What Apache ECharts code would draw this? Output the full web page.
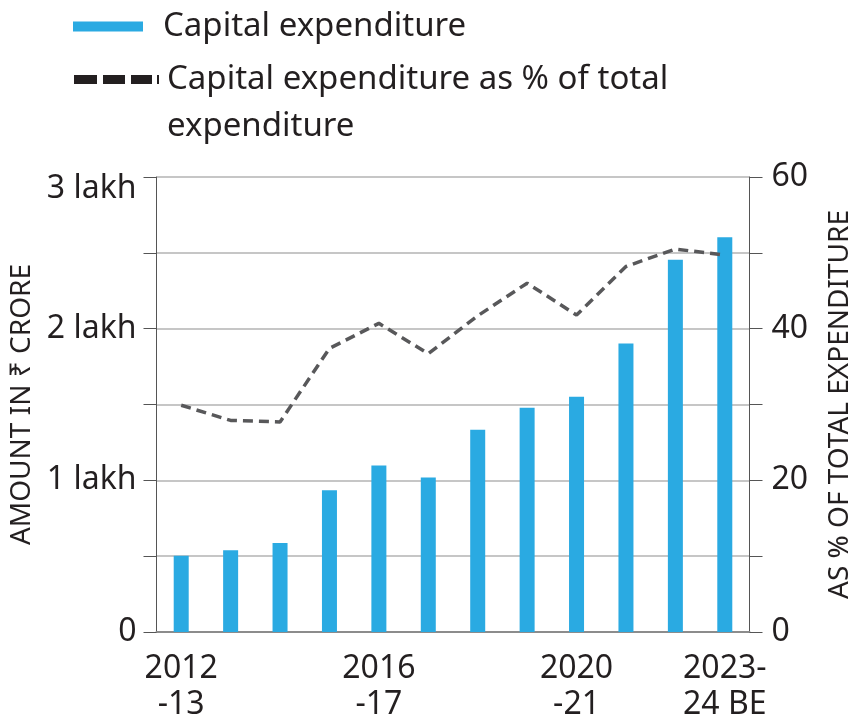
<!DOCTYPE html>
<html>
<head>
<meta charset="utf-8">
<script src="https://cdn.jsdelivr.net/npm/echarts@6/dist/echarts.min.js"></script>
<style>
  html, body { margin: 0; padding: 0; background: #fff; }
  #chart { width: 866px; height: 715px; }
</style>
</head>
<body>
<div id="chart"></div>
<script>
// railway capital expenditure, Rs crore, and its share of total expenditure
const years = ['2012-13', '2013-14', '2014-15', '2015-16', '2016-17', '2017-18',
  '2018-19', '2019-20', '2020-21', '2021-22', '2022-23', '2023-24 BE']
const capex = [50300, 53900, 58700, 93400, 109700, 101900, 133400, 147800, 155100, 190300, 245500, 260200]
const capexShare = [29.9, 27.9, 27.7, 37.4, 40.7, 36.7, 41.7, 46.0, 41.8, 48.2, 50.5, 49.7]

// only these categories get a tick and a label
const xTickLabels = { 0: '2012\n-13', 4: '2016\n-17', 8: '2020\n-21', 11: '2023-\n24 BE' }
// top label sits below its tick, hence the blank first line
const leftLabels = { 0: '0', 100000: '1 lakh', 200000: '2 lakh', 300000: ' \n3 lakh' }
const rightLabels = { 0: '0', 20: '20', 40: '40', 60: '60' }

const barName = 'Capital expenditure'
const lineName = 'Capital expenditure as % of total expenditure'

const FONT = 'Noto Sans'
const TEXT = '#231f20'
const BLUE = '#2aaae2'
const DASH = '#58585a'

const chart = echarts.init(document.getElementById('chart'))

chart.setOption({
  animation: false,
  textStyle: { fontFamily: FONT, color: TEXT },
  grid: { left: 156.5, right: 116.5, top: 177, bottom: 83, containLabel: false, outerBoundsMode: 'none' },
  legend: [
    {
      data: [{ name: barName, icon: 'rect' }],
      left: 73, top: 10, padding: 0,
      itemWidth: 70, itemHeight: 10,
      selectedMode: false,
      formatter: (n) => '{t|' + n + '}',
      textStyle: {
        fontFamily: FONT, fontSize: 33, color: TEXT,
        rich: { t: { fontFamily: FONT, fontSize: 33, color: TEXT, lineHeight: 40, padding: [0, 0, 0, 15] } }
      }
    },
    {
      data: [{
        name: lineName,
        icon: 'path://M0,0h23v9h-23z M29,0h22v9h-22z M57,0h21v9h-21z M83,0h2v9h-2z',
        itemStyle: { color: '#231f20' }
      }],
      left: 74, top: 16, padding: 0,
      itemWidth: 85, itemHeight: 9,
      selectedMode: false,
      // blank first line keeps the icon level with the first text line
      formatter: () => '{t| }\n{t|Capital expenditure as % of total}\n{t|expenditure}',
      textStyle: {
        fontFamily: FONT, fontSize: 33, color: TEXT,
        rich: { t: { fontFamily: FONT, fontSize: 33, color: TEXT, lineHeight: 47, padding: [0, 0, 0, 3] } }
      }
    }
  ],
  xAxis: {
    type: 'category',
    data: years,
    axisLine: { lineStyle: { color: '#8c8c8c', width: 2 } },
    axisTick: {
      alignWithLabel: true,
      interval: (i) => xTickLabels[i] !== undefined,
      length: 15,
      lineStyle: { color: '#231f20', width: 2 }
    },
    axisLabel: {
      interval: (i) => xTickLabels[i] !== undefined,
      formatter: (v, i) => xTickLabels[i] || '',
      margin: 19,
      fontSize: 32, lineHeight: 36, color: TEXT, fontFamily: FONT
    }
  },
  yAxis: [
    {
      type: 'value', min: 0, max: 300000, interval: 50000,
      name: 'AMOUNT IN ₹ CRORE',
      nameLocation: 'middle', nameGap: 118, nameRotate: 90,
      nameTextStyle: { fontSize: 28, color: TEXT, fontFamily: FONT },
      axisLine: { show: true, lineStyle: { color: '#555', width: 1 } },
      axisTick: { show: true, length: 13, lineStyle: { color: '#555', width: 1 } },
      axisLabel: {
        margin: 20, fontSize: 32, lineHeight: 24, color: TEXT, fontFamily: FONT,
        formatter: (v) => leftLabels[v] || ''
      },
      splitLine: { lineStyle: { color: '#b3b3b3', width: 1.5 } }
    },
    {
      type: 'value', min: 0, max: 60, interval: 10,
      name: 'AS % OF TOTAL EXPENDITURE',
      nameLocation: 'middle', nameGap: 77, nameRotate: 90,
      nameTextStyle: { fontSize: 28, color: TEXT, fontFamily: FONT },
      axisLine: { show: true, lineStyle: { color: '#555', width: 1 } },
      axisTick: { show: true, length: 13, lineStyle: { color: '#555', width: 1 } },
      axisLabel: {
        margin: 22, fontSize: 32, color: TEXT, fontFamily: FONT,
        formatter: (v) => rightLabels[v] || ''
      },
      splitLine: { show: false }
    }
  ],
  series: [
    {
      name: barName,
      type: 'bar',
      data: capex,
      barWidth: 15,
      itemStyle: { color: BLUE },
      z: 2
    },
    {
      name: lineName,
      type: 'line',
      yAxisIndex: 1,
      data: capexShare,
      symbol: 'none',
      itemStyle: { color: '#231f20' },
      lineStyle: { color: DASH, width: 3.5, type: [10, 6] },
      z: 3
    }
  ]
})
</script>
</body>
</html>
